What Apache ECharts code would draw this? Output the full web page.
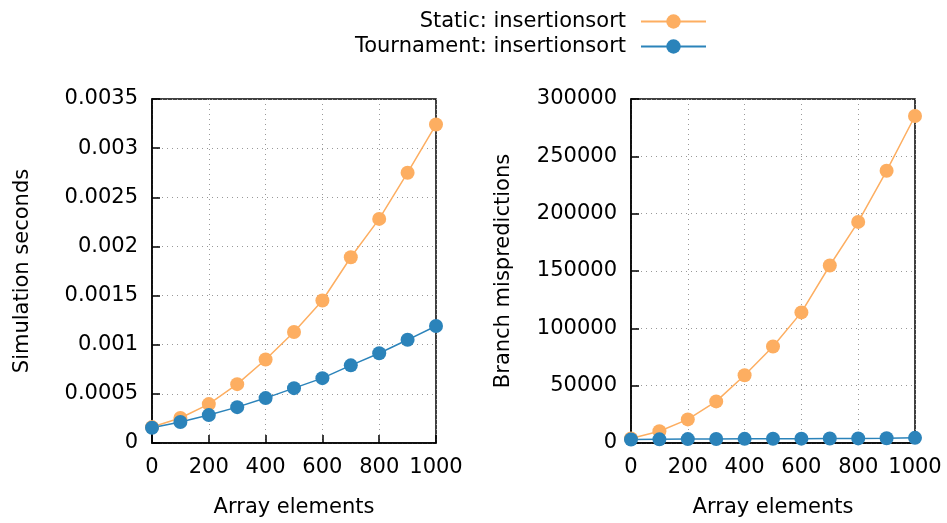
<!DOCTYPE html>
<html lang="en">
<head>
  <meta charset="UTF-8">
  <title>insertionsort</title>
  <script src="https://cdn.jsdelivr.net/npm/echarts@6/dist/echarts.min.js"></script>
  <style>
    html, body {
      margin: 0;
      padding: 0;
      background: #fff;
    }

    .box {
      width: 947px;
      height: 523px;
    }
  </style>
</head>
<body>
<div class="box"></div>

<script>
  // array sizes on the x axis
  var elements = [0, 100, 200, 300, 400, 500, 600, 700, 800, 900, 1000];

  // simulation seconds
  var staticSeconds = [0.000162, 0.000254, 0.000396, 0.000599, 0.00085, 0.00113, 0.00145, 0.00189, 0.00228, 0.00275, 0.00324];
  var tournamentSeconds = [0.000155, 0.000213, 0.000284, 0.000365, 0.000457, 0.000558, 0.00066, 0.00079, 0.000913, 0.00105, 0.00119];

  // branch mispredictions
  var staticMispred = [4000, 10200, 20600, 36300, 59100, 84100, 113900, 154800, 192800, 237400, 285200];
  var tournamentMispred = [3000, 3200, 3400, 3500, 3600, 3700, 3800, 3900, 4000, 4200, 4500];

  var seriesNames = ['Static: insertionsort', 'Tournament: insertionsort'];
  var colors = ['#fdae61', '#2b83ba'];

  var font = 'DejaVu Sans';
  var fs = 21;

  function pairs(ys) {
    return elements.map(function (x, i) {
      return [x, ys[i]];
    });
  }

  function makeX(gridIndex) {
    return {
      type: 'value',
      gridIndex: gridIndex,
      min: 0,
      max: 1000,
      interval: 200,
      name: 'Array elements',
      nameLocation: 'middle',
      nameGap: 54,
      nameTextStyle: { fontFamily: font, fontSize: fs, color: '#000' },
      axisLine: { show: true, onZero: false, lineStyle: { color: '#000', width: 1.5 } },
      axisTick: { show: true, inside: true, length: 8, lineStyle: { color: '#000', width: 1.5 } },
      axisLabel: { fontFamily: font, fontSize: fs, color: '#000', margin: 14, formatter: function (v) { return String(v); } },
      splitLine: { show: true, lineStyle: { color: '#999', type: [1, 4], width: 1 } }
    };
  }

  function makeY(gridIndex, max, interval, name, fmt) {
    return {
      type: 'value',
      gridIndex: gridIndex,
      min: 0,
      max: max,
      interval: interval,
      name: name,
      nameLocation: 'middle',
      nameGap: gridIndex === 0 ? 119 : 117,
      nameTextStyle: { fontFamily: font, fontSize: fs, color: '#000' },
      axisLine: { show: true, lineStyle: { color: '#000', width: 1.5 } },
      axisTick: { show: true, inside: true, length: 8, lineStyle: { color: '#000', width: 1.5 } },
      axisLabel: { fontFamily: font, fontSize: fs, color: '#000', margin: 14, formatter: fmt },
      splitLine: { show: true, lineStyle: { color: '#999', type: [1, 4], width: 1 } }
    };
  }

  function makeSeries(name, color, ys, idx) {
    return {
      name: name,
      type: 'line',
      xAxisIndex: idx,
      yAxisIndex: idx,
      data: pairs(ys),
      symbol: 'circle',
      symbolSize: 14,
      clip: false,
      color: color,
      lineStyle: { width: 1.5, color: color },
      itemStyle: { color: color },
      emphasis: { disabled: true }
    };
  }

  var chart = echarts.init(document.getElementsByClassName('box')[0]);

  var option = {
    animation: false,
    textStyle: { fontFamily: font },
    legend: {
      data: seriesNames,
      orient: 'vertical',
      align: 'right',
      right: 235,
      top: 6,
      itemWidth: 65,
      itemHeight: 18,
      itemGap: 4,
      textStyle: { fontFamily: font, fontSize: fs, color: '#000', padding: [0, 10, 0, 0] }
    },
    grid: [
      { left: 152, top: 99, width: 284, height: 345, show: true, borderColor: '#000', borderWidth: 1.5, backgroundColor: 'transparent' },
      { left: 631, top: 99, width: 284, height: 345, show: true, borderColor: '#000', borderWidth: 1.5, backgroundColor: 'transparent' }
    ],
    xAxis: [makeX(0), makeX(1)],
    yAxis: [
      makeY(0, 0.0035, 0.0005, 'Simulation seconds', function (v) { return String(+v.toFixed(6)); }),
      makeY(1, 300000, 50000, 'Branch mispredictions', function (v) { return String(Math.round(v)); })
    ],
    series: [
      makeSeries(seriesNames[0], colors[0], staticSeconds, 0),
      makeSeries(seriesNames[1], colors[1], tournamentSeconds, 0),
      makeSeries(seriesNames[0], colors[0], staticMispred, 1),
      makeSeries(seriesNames[1], colors[1], tournamentMispred, 1)
    ]
  };

  chart.setOption(option);
</script>
</body>
</html>
